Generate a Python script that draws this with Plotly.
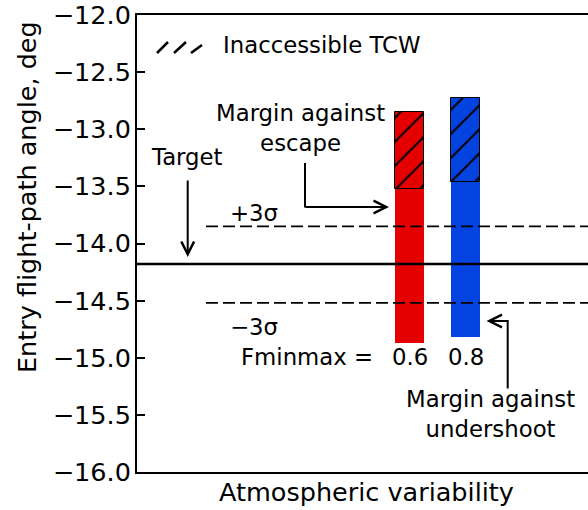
import plotly.graph_objects as go

# Entry corridor per atmospheric-variability factor
fminmax = ["0.6", "0.8"]
corridor_low = [-14.87, -14.82]    # margin against undershoot (steep side)
tcw_start = [-13.52, -13.46]       # where the inaccessible TCW begins
corridor_high = [-12.85, -12.73]   # shallow limit
bar_colors = ["#e50000", "#0343df"]

target_fpa = -14.18
plus_3sigma = -13.85
minus_3sigma = -14.52

y_ticks = [-16.0, -15.5, -15.0, -14.5, -14.0, -13.5, -13.0, -12.5, -12.0]

W, H = 588, 510
L, R, T, B = 137, 0, 15, 38
FONT = "DejaVu Sans"
TXT = 22.8
AX_TXT = 25.5


def px(xp):
    """horizontal pixel -> paper fraction"""
    return (xp - L) / (W - L - R)


def py(yp):
    """vertical pixel -> paper fraction"""
    return (H - B - yp) / (H - T - B)


fig = go.Figure()

for cat, lo, mid, hi, col in zip(fminmax, corridor_low, tcw_start, corridor_high, bar_colors):
    # accessible part of the corridor
    fig.add_trace(go.Bar(
        x=[cat], base=[lo], y=[mid - lo],
        marker=dict(color=col, line=dict(width=0)),
        width=0.52, showlegend=False, hoverinfo="skip",
    ))
    # inaccessible TCW part, hatched
    fig.add_trace(go.Bar(
        x=[cat], base=[mid], y=[hi - mid],
        marker=dict(
            color=col,
            line=dict(color="black", width=1),
            pattern=dict(shape="/", fgcolor="black", fgopacity=1, bgcolor=col,
                         fillmode="overlay", size=17, solidity=0.12),
        ),
        width=0.52, showlegend=False, hoverinfo="skip",
    ))

# target and 3-sigma lines
fig.add_shape(type="line", xref="paper", yref="y", x0=0, x1=1,
              y0=target_fpa, y1=target_fpa, line=dict(color="black", width=2.5))
for yv in (plus_3sigma, minus_3sigma):
    fig.add_shape(type="line", xref="paper", yref="y", x0=px(206), x1=1,
                  y0=yv, y1=yv, line=dict(color="black", width=1.8, dash="12px,5px"))

annotations = []


def text(x, y, s, xanchor="center", size=TXT, xref="paper"):
    annotations.append(dict(x=x, y=y, xref=xref, yref="paper", text=s,
                            showarrow=False, xanchor=xanchor, yanchor="middle",
                            font=dict(family=FONT, size=size, color="black")))


def arrow(x, y, ax, ay):
    annotations.append(dict(x=x, y=y, xref="paper", yref="paper", ax=ax, ay=ay,
                            axref="pixel", ayref="pixel", text="",
                            showarrow=True, arrowhead=5, arrowsize=1.25,
                            arrowwidth=2, arrowcolor="black"))


# legend for the hatch
for (x0, y0, x1, y1) in [(157, 53, 168, 42), (174, 53, 186, 42), (191, 53, 202, 45)]:
    fig.add_shape(type="line", xref="paper", yref="paper",
                  x0=px(x0), y0=py(y0), x1=px(x1), y1=py(y1),
                  line=dict(color="black", width=2.5))
text(px(221), py(45), "Inaccessible TCW", xanchor="left")

# Target
text(px(187), py(157), "Target")
arrow(px(187.7), py(257), 0, -78)

# sigma labels
text(px(254), py(213), "+3σ")
text(px(254), py(327), "−3σ")

# margin against escape: elbow arrow
text(px(300), py(128), "Margin against<br>escape")
fig.add_shape(type="line", xref="paper", yref="paper",
              x0=px(305), x1=px(305), y0=py(163), y1=py(207.5),
              line=dict(color="black", width=2))
arrow(px(389), py(207), -85, 0)

# margin against undershoot: elbow arrow
text(px(490), py(414), "Margin against<br>undershoot")
fig.add_shape(type="line", xref="paper", yref="paper",
              x0=px(507.7), x1=px(507.7), y0=py(388.5), y1=py(320),
              line=dict(color="black", width=2))
arrow(px(486.5), py(321), 22, 0)

# Fminmax row
text(px(306.7), py(356.5), "Fminmax =")
for i, cat in enumerate(fminmax):
    text(i, py(356.5), cat, xref="x")

# axis titles
text(px(366), py(492), "Atmospheric variability", size=AX_TXT)
annotations.append(dict(x=px(27), y=py(197), xref="paper", yref="paper",
                        text="Entry flight-path angle, deg", textangle=-90,
                        showarrow=False, xanchor="center", yanchor="middle",
                        font=dict(family=FONT, size=AX_TXT, color="black")))

fig.update_layout(
    width=W, height=H,
    margin=dict(l=L, r=R, t=T, b=B, pad=0),
    paper_bgcolor="white", plot_bgcolor="white",
    barmode="overlay",
    bargap=0,
    annotations=annotations,
    font=dict(family=FONT, color="black"),
)

span = (W - L - R) / 56.0
left = -(409.5 - L) / 56.0
fig.update_xaxes(
    type="category", range=[left, left + span],
    showticklabels=False, ticks="", showgrid=False, zeroline=False,
    showline=True, linecolor="black", linewidth=2, mirror=True,
)
fig.update_yaxes(
    range=[-16, -12], tickvals=y_ticks, tickformat=".1f",
    ticks="inside", ticklen=8, tickwidth=2, tickcolor="black",
    tickfont=dict(family=FONT, size=AX_TXT, color="black"),
    showgrid=False, zeroline=False,
    showline=True, linecolor="black", linewidth=2, mirror=False,
    ticklabelstandoff=-1, ticklabeloverflow="allow",
)

fig.write_html("out.html")
